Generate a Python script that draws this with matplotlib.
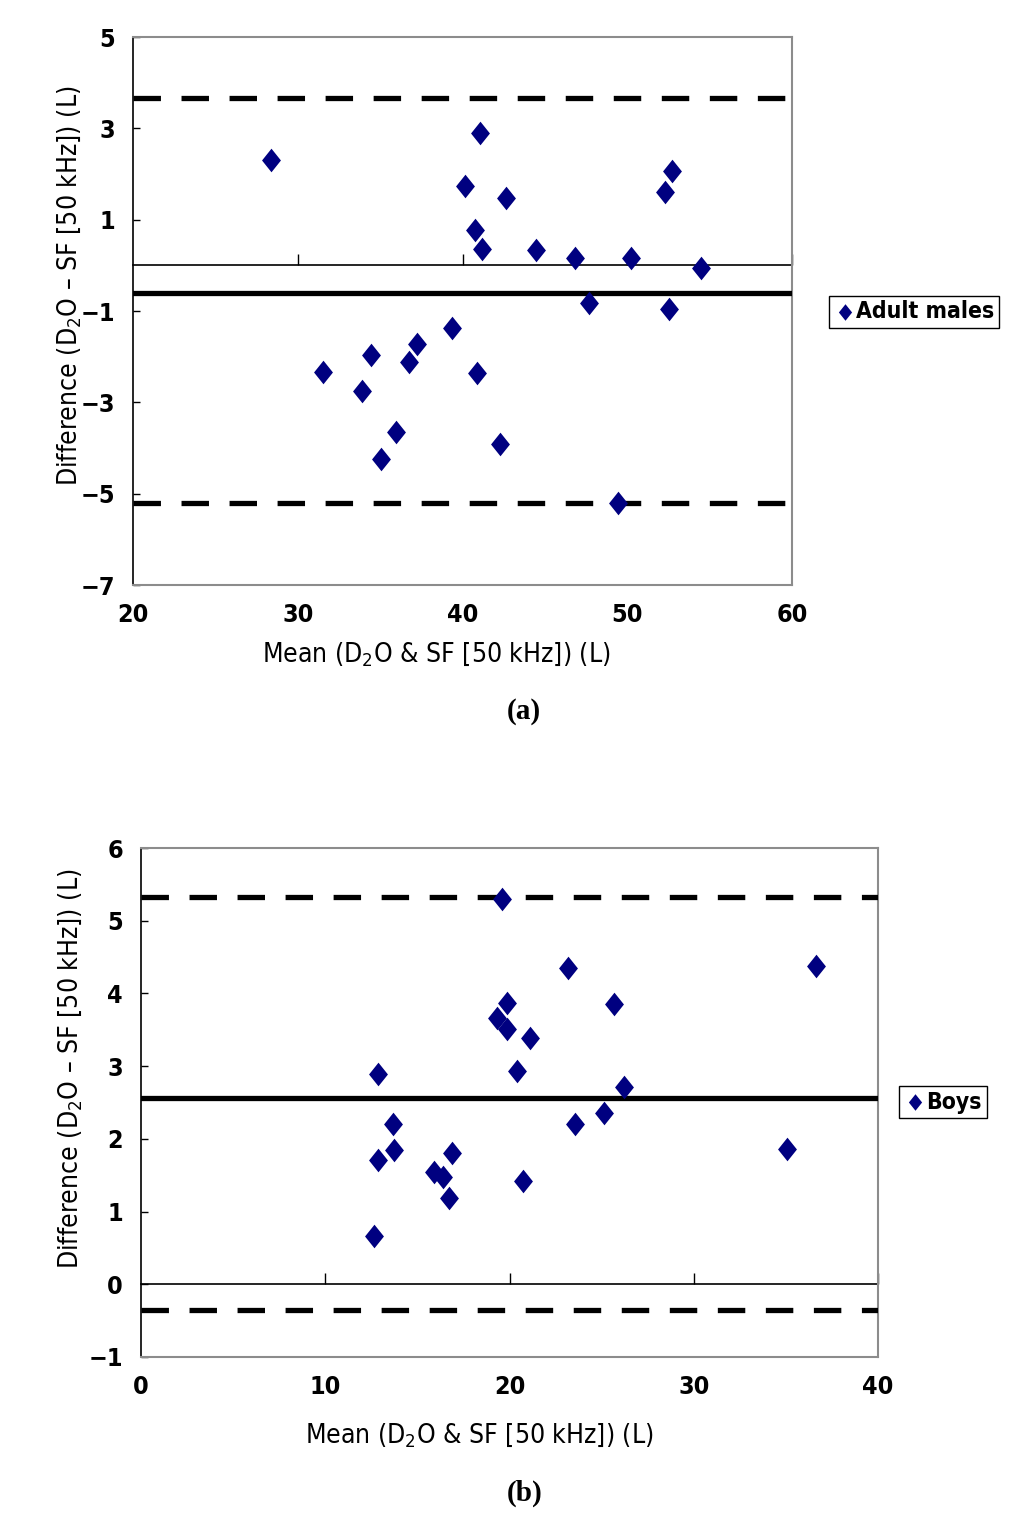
import matplotlib
matplotlib.use("Agg")
import matplotlib.pyplot as plt
from matplotlib import font_manager

# ---------------- data ----------------
# Panel (a): Adult males
a_mean = [28.38, 41.05, 40.13, 42.67, 52.27, 52.69, 40.75, 41.19, 44.45, 46.84,
          50.21, 54.47, 47.70, 52.52, 39.38, 37.26, 34.42, 36.77, 31.53, 40.86,
          33.87, 35.96, 42.28, 35.04, 49.45]
a_diff = [2.31, 2.89, 1.73, 1.48, 1.61, 2.06, 0.77, 0.36, 0.33, 0.16,
          0.16, -0.05, -0.82, -0.95, -1.37, -1.73, -1.97, -2.11, -2.33, -2.35,
          -2.75, -3.65, -3.91, -4.24, -5.20]
a_bias = -0.60
a_upper = 3.66
a_lower = -5.21
a_xticks = [20, 30, 40, 50, 60]
a_yticks = [-7, -5, -3, -1, 1, 3, 5]

# Panel (b): Boys
b_mean = [19.62, 23.19, 36.61, 19.84, 25.66, 19.34, 19.87, 21.09, 20.40, 12.85,
          26.24, 25.11, 23.58, 13.66, 13.74, 12.88, 16.87, 35.06, 15.90, 16.37,
          20.75, 16.71, 12.66]
b_diff = [5.30, 4.35, 4.38, 3.87, 3.86, 3.66, 3.51, 3.39, 2.94, 2.89,
          2.72, 2.36, 2.20, 2.21, 1.85, 1.71, 1.80, 1.86, 1.54, 1.47,
          1.42, 1.19, 0.67]
b_bias = 2.56
b_upper = 5.32
b_lower = -0.36
b_xticks = [0, 10, 20, 30, 40]
b_yticks = [-1, 0, 1, 2, 3, 4, 5, 6]

# ---------------- style ----------------
avail = {f.name for f in font_manager.fontManager.ttflist}
narrow = "Liberation Sans Narrow" if "Liberation Sans Narrow" in avail else "DejaVu Sans"
plt.rcParams['font.family'] = [narrow, 'DejaVu Sans']
plt.rcParams['font.stretch'] = 'condensed'
plt.rcParams['mathtext.fontset'] = 'custom'
plt.rcParams['mathtext.rm'] = narrow

NAVY = "#000080"
diamond = [(0, 1), (0.8, 0), (0, -1), (-0.8, 0), (0, 1)]

fig = plt.figure(figsize=(10.24, 15.25), dpi=100)

ylab = r"Difference (D$_\mathregular{2}$O – SF [50 kHz]) (L)"
xlab = r"Mean (D$_\mathregular{2}$O & SF [50 kHz]) (L)"


def panel(rect, xs, ys, bias, upper, lower, xlim, ylim, xticks, yticks,
          label, leg_anchor, tag, tag_y, xlab_pos, ylab_pos):
    ax = fig.add_axes(rect)
    ax.set_xlim(*xlim)
    ax.set_ylim(*ylim)
    ax.scatter(xs, ys, marker=diamond, s=17 ** 2, color=NAVY, zorder=5,
               linewidths=0, label=label)
    ax.axhline(bias, color="black", lw=3.8, zorder=3)
    for v in (upper, lower):
        ax.axhline(v, color="black", lw=3.8, ls=(0, (5.2, 3.9)),
                   dash_capstyle="butt", zorder=3)
    ax.set_xticks(xticks)
    ax.set_yticks(yticks)
    ax.tick_params(axis="x", length=0, pad=13, labelsize=18)
    ax.tick_params(axis="y", direction="in", length=5, pad=13, labelsize=18,
                   width=1)
    for t in ax.get_xticklabels() + ax.get_yticklabels():
        t.set_fontweight("bold")
    for s in ("top", "right", "bottom"):
        ax.spines[s].set_color("#8c8c8c")
        ax.spines[s].set_linewidth(1.5)
    ax.spines["left"].set_color("black")
    ax.spines["left"].set_linewidth(1.2)
    # zero line with upward ticks
    loc = (0 - ylim[0]) / (ylim[1] - ylim[0])
    sec = ax.secondary_xaxis(loc)
    sec.set_alignment("bottom")
    sec.set_xticks(xticks[1:])
    sec.set_xticklabels([])
    sec.tick_params(axis="x", direction="in", length=8, width=1,
                    labelbottom=False, labeltop=False)
    sec.spines["bottom"].set_linewidth(1.2)
    sec.spines["bottom"].set_color("black")
    ax.set_xlabel(xlab, fontsize=19)
    ax.set_ylabel(ylab, fontsize=19)
    ax.xaxis.set_label_coords(*xlab_pos)
    ax.yaxis.set_label_coords(*ylab_pos)
    leg = ax.legend(loc="center left", bbox_to_anchor=leg_anchor,
                    bbox_transform=fig.transFigure, fontsize=16.5,
                    markerscale=0.7, handletextpad=0.0, borderpad=0.2,
                    fancybox=False, framealpha=1, edgecolor="black",
                    handlelength=1.0, borderaxespad=0)
    leg.get_frame().set_linewidth(1.0)
    for t in leg.get_texts():
        t.set_fontweight("bold")
    fig.text(0.512, tag_y, tag, ha="center", va="center", fontsize=21,
             fontweight="bold", family="Liberation Serif")
    return ax


panel([133 / 1024, 1 - 585 / 1525, 659 / 1024, 548 / 1525],
      a_mean, a_diff, a_bias, a_upper, a_lower, (20, 60), (-7, 5),
      a_xticks, a_yticks, "Adult males", (829 / 1024, 1 - 312 / 1525),
      "(a)", 1 - 711 / 1525, (0.461, -0.100), (-0.076, 0.546))

panel([141 / 1024, 1 - 1357 / 1525, 737 / 1024, 509 / 1525],
      b_mean, b_diff, b_bias, b_upper, b_lower, (0, 40), (-1, 6),
      b_xticks, b_yticks, "Boys", (899 / 1024, 1 - 1102 / 1525),
      "(b)", 1 - 1493 / 1525, (0.459, -0.125), (-0.078, 0.566))

fig.savefig("out.png", dpi=100)
